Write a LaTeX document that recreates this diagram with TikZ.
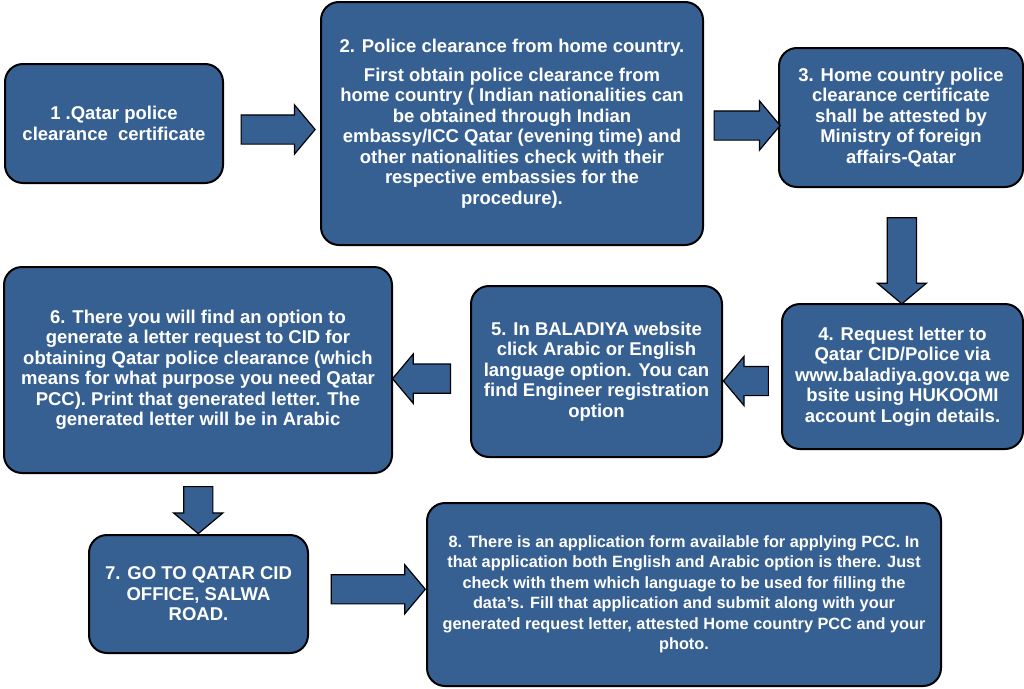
\documentclass[tikz,border=0pt]{standalone}
\usepackage{fontspec}
\setmainfont{Liberation Sans}
\usetikzlibrary{shapes.arrows}
\definecolor{stepblue}{RGB}{55,96,146}
\begin{document}
\begin{tikzpicture}[x=1pt,y=-1pt,
  box/.style={draw=black, line width=2pt, fill=stepblue, rounded corners=18pt, text=white,
    font=\fontsize{18.5}{20.5}\selectfont\bfseries, align=center, inner sep=0pt},
  blockarrow/.style={single arrow, draw=black, line width=1.2pt, fill=stepblue, inner sep=14pt,
    minimum width=48pt, single arrow head extend=10pt, single arrow tip angle=100}]
\useasboundingbox (0,0) rectangle (1024,688);
\node[box, minimum width=218pt, minimum height=119pt] (1) at (114,123.5) {1 .Qatar police\\clearance\ \ certificate};
\node[box, minimum width=382pt, minimum height=243pt] (2) at (512,123.5) {2. Police clearance from home country.\\[8pt]
  First obtain police clearance from\\home country ( Indian nationalities can\\be obtained through Indian\\
  embassy/ICC Qatar (evening time) and\\other nationalities check with their\\respective embassies for the\\procedure).};
\node[box, minimum width=244pt, minimum height=139pt] (3) at (901,117.5) {3. Home country police\\clearance certificate\\shall be attested by\\Ministry of foreign\\affairs-Qatar};
\node[box, minimum width=241pt, minimum height=145pt] (4) at (902.5,376.5) {4. Request letter to\\Qatar CID/Police via\\www.baladiya.gov.qa we\\bsite using HUKOOMI\\account Login details.};
\node[box, minimum width=251pt, minimum height=171pt] (5) at (596.5,371.5) {5. In BALADIYA website\\click Arabic or English\\language option. You can\\find Engineer registration\\option};
\node[box, minimum width=388pt, minimum height=206pt] (6) at (198,370) {6. There you will find an option to\\generate a letter request to CID for\\obtaining Qatar police clearance (which\\
  means for what purpose you need Qatar\\PCC). Print that generated letter. The\\generated letter will be in Arabic};
\node[box, minimum width=219pt, minimum height=118pt] (7) at (198.5,594) {7. GO TO QATAR CID\\OFFICE, SALWA\\ROAD.};
\node[box, minimum width=514pt, minimum height=183pt, font=\fontsize{16.3}{20.5}\selectfont\bfseries] (8) at (684,594.5) {8. There is an application form available for applying PCC. In\\
  that application both English and Arabic option is there. Just\\check with them which language to be used for filling the\\
  data’s. Fill that application and submit along with your\\generated request letter, attested Home country PCC and your\\photo.};
% block arrows between the steps
\path (1.east) -- node[blockarrow, minimum height=74pt, pos=0.5, yshift=-6pt] (a1) {} (2.west);
\path (2.east) -- node[blockarrow, minimum height=66pt, yshift=-5pt] (a2) {} (3.west);
\path (3.south) -- node[blockarrow, minimum height=86pt, rotate=-90, pos=0.58] (a3) {} (4.north);
\path (4.west) -- node[blockarrow, minimum height=45pt, rotate=180, yshift=7pt] (a4) {} (5.east);
\path (5.west) -- node[blockarrow, minimum height=58pt, rotate=180, pos=0.55, yshift=8pt] (a5) {} (6.east);
\path (6.south) -- node[blockarrow, minimum height=47pt, rotate=-90] (a6) {} (7.north);
\path (7.east) -- node[blockarrow, minimum height=94pt, pos=0.54, yshift=5pt] (a7) {} (8.west);
\end{tikzpicture}
\end{document}
